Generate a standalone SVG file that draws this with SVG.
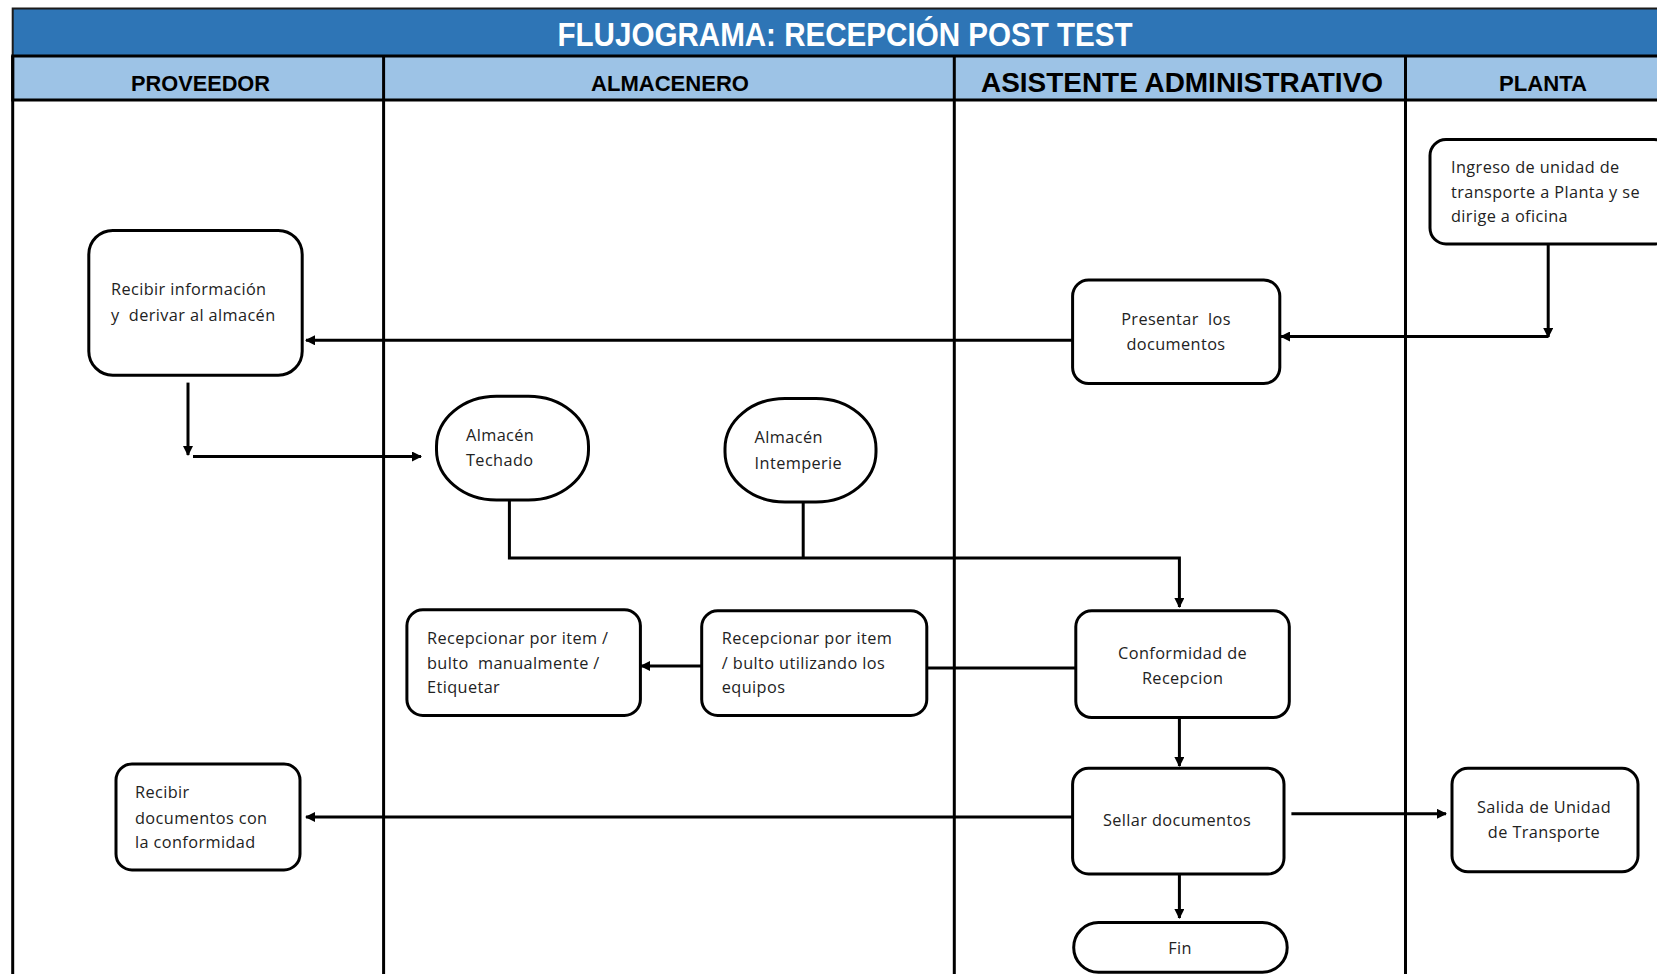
<svg xmlns="http://www.w3.org/2000/svg" width="1657" height="974" viewBox="0 0 1657 974">
  <defs>
    <marker id="arrow" viewBox="0 0 10 10" refX="9" refY="5" markerWidth="10" markerHeight="10" markerUnits="userSpaceOnUse" orient="auto">
      <path d="M0,0 L10,5 L0,10 Z" fill="#000"/>
    </marker>
    <style>
      .lane { stroke: #000; stroke-width: 3; fill: none; }
      .title { font-family: "Liberation Sans", Arial, sans-serif; font-weight: bold; fill: #fff; }
      .hdr { font-family: "Liberation Sans", Arial, sans-serif; font-weight: bold; fill: #000; }
      .box { fill: #fff; stroke: #000; stroke-width: 3; }
      .lbl { font-family: "Open Sans", "Noto Sans", sans-serif; font-size: 16.3px; letter-spacing: 0.4px; fill: #222; }
      .mid { text-anchor: middle; }
      .wire { stroke: #000; stroke-width: 3; fill: none; }
    </style>
  </defs>

  <rect width="1657" height="974" fill="#fff"/>

  <!-- title bar and lane headers -->
  <g id="header">
    <rect x="12.7" y="8.5" width="1670" height="47.5" fill="#2E75B6" stroke="#1b1b1b" stroke-width="2"/>
    <text class="title" x="845" y="45.5" font-size="32.5" text-anchor="middle" textLength="575" lengthAdjust="spacingAndGlyphs">FLUJOGRAMA: RECEPCIÓN POST TEST</text>
    <rect x="12.7" y="56" width="1670" height="44" fill="#9DC3E6" stroke="#000" stroke-width="3"/>
    <text class="hdr" x="200.5" y="90.5" font-size="22.5" text-anchor="middle" textLength="139" lengthAdjust="spacingAndGlyphs">PROVEEDOR</text>
    <text class="hdr" x="670" y="90.5" font-size="22.5" text-anchor="middle" textLength="158" lengthAdjust="spacingAndGlyphs">ALMACENERO</text>
    <text class="hdr" x="1182" y="91.5" font-size="28" text-anchor="middle" textLength="402" lengthAdjust="spacingAndGlyphs">ASISTENTE ADMINISTRATIVO</text>
    <text class="hdr" x="1543" y="90.5" font-size="22.5" text-anchor="middle" textLength="88" lengthAdjust="spacingAndGlyphs">PLANTA</text>
  </g>

  <!-- swimlane dividers -->
  <g id="lanes">
    <line class="lane" x1="12.7" y1="56" x2="12.7" y2="974"/>
    <line class="lane" x1="383.6" y1="56" x2="383.6" y2="974"/>
    <line class="lane" x1="954.3" y1="56" x2="954.3" y2="974"/>
    <line class="lane" x1="1405.5" y1="56" x2="1405.5" y2="974"/>
  </g>

  <!-- connectors -->
  <g id="connectors">
    <!-- Presentar -> Recibir información -->
    <line class="wire" x1="1072.6" y1="340.3" x2="306" y2="340.3" marker-end="url(#arrow)"/>
    <!-- Ingreso -> Presentar -->
    <line class="wire" x1="1548.2" y1="244" x2="1548.2" y2="337" marker-end="url(#arrow)"/>
    <line class="wire" x1="1548.2" y1="336.5" x2="1281" y2="336.5" marker-end="url(#arrow)"/>
    <!-- Recibir información -> Almacén Techado -->
    <line class="wire" x1="188" y1="382.6" x2="188" y2="455" marker-end="url(#arrow)"/>
    <line class="wire" x1="193" y1="456.5" x2="421" y2="456.5" marker-end="url(#arrow)"/>
    <!-- Almacenes -> Conformidad -->
    <polyline class="wire" points="509.4,500 509.4,558 1179.4,558 1179.4,607" marker-end="url(#arrow)"/>
    <line class="wire" x1="803.2" y1="502" x2="803.2" y2="558"/>
    <!-- Conformidad -> Recepcionar (equipos) -->
    <line class="wire" x1="1075.8" y1="668" x2="926.8" y2="668"/>
    <!-- Recepcionar (equipos) -> Recepcionar (manual) -->
    <line class="wire" x1="701.7" y1="666" x2="641" y2="666" marker-end="url(#arrow)"/>
    <!-- Conformidad -> Sellar -->
    <line class="wire" x1="1179.4" y1="717.6" x2="1179.4" y2="766" marker-end="url(#arrow)"/>
    <!-- Sellar -> Recibir documentos -->
    <line class="wire" x1="1072.6" y1="817" x2="306" y2="817" marker-end="url(#arrow)"/>
    <!-- Sellar -> Salida -->
    <line class="wire" x1="1291.4" y1="813.8" x2="1446" y2="813.8" marker-end="url(#arrow)"/>
    <!-- Sellar -> Fin -->
    <line class="wire" x1="1179.4" y1="874" x2="1179.4" y2="918" marker-end="url(#arrow)"/>
  </g>

  <!-- nodes -->
  <g id="recibir-informacion">
    <rect class="box" x="88.8" y="230.4" width="213.4" height="144.8" rx="24"/>
    <text class="lbl" x="111" y="295">Recibir información</text>
    <text class="lbl" x="111" y="320.5" xml:space="preserve">y  derivar al almacén</text>
  </g>

  <g id="presentar-documentos">
    <rect class="box" x="1072.6" y="280" width="207.2" height="103.6" rx="16"/>
    <text class="lbl mid" x="1176" y="324.5" xml:space="preserve">Presentar  los</text>
    <text class="lbl mid" x="1176" y="350">documentos</text>
  </g>

  <g id="ingreso-unidad">
    <rect class="box" x="1430" y="139.5" width="240" height="104.5" rx="16"/>
    <text class="lbl" x="1451" y="172.5">Ingreso de unidad de</text>
    <text class="lbl" x="1451" y="197.5">transporte a Planta y se</text>
    <text class="lbl" x="1451" y="222">dirige a oficina</text>
  </g>

  <g id="almacen-techado">
    <rect class="box" x="436.5" y="396.3" width="152" height="103.7" rx="60" ry="50"/>
    <text class="lbl" x="466" y="441">Almacén</text>
    <text class="lbl" x="466" y="466.3">Techado</text>
  </g>

  <g id="almacen-intemperie">
    <rect class="box" x="725" y="398.4" width="151" height="103.6" rx="60" ry="50"/>
    <text class="lbl" x="754.6" y="443">Almacén</text>
    <text class="lbl" x="754.6" y="468.5">Intemperie</text>
  </g>

  <g id="recepcionar-manual">
    <rect class="box" x="406.9" y="609.8" width="233.5" height="105.7" rx="16"/>
    <text class="lbl" x="427" y="643.8">Recepcionar por item /</text>
    <text class="lbl" x="427" y="669.2" xml:space="preserve">bulto  manualmente /</text>
    <text class="lbl" x="427" y="692.5">Etiquetar</text>
  </g>

  <g id="recepcionar-equipos">
    <rect class="box" x="701.7" y="610.8" width="225.1" height="104.7" rx="16"/>
    <text class="lbl" x="721.8" y="643.8">Recepcionar por item</text>
    <text class="lbl" x="721.8" y="669.2">/ bulto utilizando los</text>
    <text class="lbl" x="721.8" y="692.5">equipos</text>
  </g>

  <g id="conformidad-recepcion">
    <rect class="box" x="1075.8" y="610.8" width="213.5" height="106.8" rx="16"/>
    <text class="lbl mid" x="1182.6" y="658.5">Conformidad de</text>
    <text class="lbl mid" x="1182.6" y="684">Recepcion</text>
  </g>

  <g id="sellar-documentos">
    <rect class="box" x="1072.6" y="768.3" width="211.4" height="105.7" rx="16"/>
    <text class="lbl mid" x="1177" y="825.5">Sellar documentos</text>
  </g>

  <g id="salida-unidad">
    <rect class="box" x="1452" y="768.3" width="186" height="103.5" rx="16"/>
    <text class="lbl mid" x="1544" y="813">Salida de Unidad</text>
    <text class="lbl mid" x="1544" y="838.3">de Transporte</text>
  </g>

  <g id="recibir-documentos">
    <rect class="box" x="116" y="764" width="184" height="106" rx="16"/>
    <text class="lbl" x="135" y="798">Recibir</text>
    <text class="lbl" x="135" y="823.5">documentos con</text>
    <text class="lbl" x="135" y="847.5">la conformidad</text>
  </g>

  <g id="fin">
    <rect class="box" x="1073.7" y="922.6" width="213.5" height="49.7" rx="24.8"/>
    <text class="lbl mid" x="1180" y="953.5">Fin</text>
  </g>
</svg>
